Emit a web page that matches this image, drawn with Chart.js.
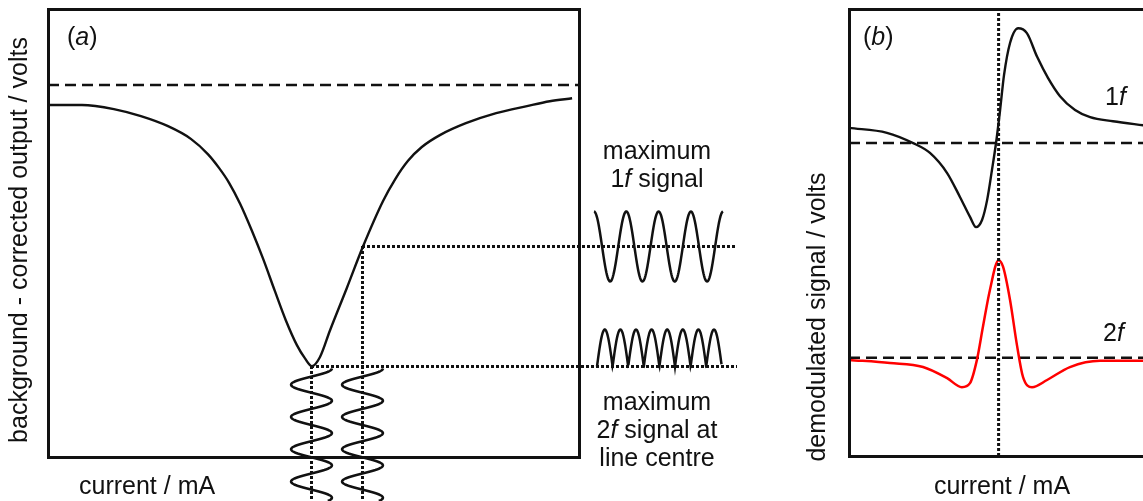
<!DOCTYPE html>
<html>
<head>
<meta charset="utf-8">
<script src="https://cdn.jsdelivr.net/npm/chart.js@4.4.1/dist/chart.umd.min.js"></script>
<style>
  html, body { margin: 0; padding: 0; background: #fff; overflow: hidden; width: 1143px; height: 501px; }
  #wrap { position: relative; width: 1143px; height: 501px; overflow: hidden; }
  canvas { position: absolute; top: 0; }
  #chartA { left: 0; }
  #chartB { left: 780px; }
</style>
</head>
<body>
<div id="wrap">
  <canvas id="chartA" width="760" height="501"></canvas>
  <canvas id="chartB" width="380" height="501"></canvas>
</div>
<script>
// ---- Panel (a): background-corrected detector output vs laser current ----
const currentA = [0, 6.4, 12.4, 17.5, 22.6, 26.9, 30.1, 32.2, 34.1, 36.2, 38.4, 40.5, 42.7, 44.8,
                  46.9, 48.4, 49.7, 51.2, 53.1, 56.3, 59.3, 63.1, 65.4, 67.8, 70.4, 73.8, 78.7,
                  84.4, 90.2, 94.5, 98.7];
const outputA  = [0.946, 0.946, 0.935, 0.916, 0.889, 0.855, 0.814, 0.777, 0.737, 0.680, 0.608, 0.533,
                  0.447, 0.367, 0.300, 0.265, 0.244, 0.268, 0.340, 0.455, 0.565, 0.688, 0.747, 0.796,
                  0.833, 0.865, 0.897, 0.924, 0.943, 0.956, 0.964];
const baselineA = 1.0;       // output with no absorption
const lineCentre = 49.7;     // mA, centre of the absorption line
const slopeCurrent = 59.3;   // mA, steepest flank (largest 1f signal)
const slopeOutput = 0.565;   // output at the steepest flank
const centreOutput = 0.244;  // output at line centre

// ---- Panel (b): demodulated 1f and 2f signals ----
const current1f = [0, 12.6, 21.3, 26.9, 32.6, 36.9, 40.2, 42.2, 44.2, 45.9, 47.5, 48.8, 50.2, 51.5,
                   53.5, 56.2, 59.1, 62.5, 66.1, 70.1, 75.1, 80.1, 87.7, 97.7, 100];
const signal1f  = [7.34, 7.23, 7.00, 6.78, 6.33, 5.79, 5.35, 5.12, 5.28, 5.73, 6.40, 6.98, 7.74, 8.52,
                   9.24, 9.57, 9.46, 8.93, 8.46, 8.05, 7.74, 7.58, 7.49, 7.40, 7.38];
const current2f = [0, 13.6, 24.6, 32.6, 37.5, 40.2, 42.5, 44.5, 46.8, 49.7, 51.2, 53.5, 55.8, 57.8,
                   60.8, 65.8, 73.4, 83.4, 97.7, 100];
const signal2f  = [2.15, 2.08, 1.99, 1.74, 1.54, 1.63, 2.15, 2.89, 3.71, 4.38, 4.23, 3.49, 2.48, 1.77,
                   1.54, 1.70, 1.99, 2.13, 2.13, 2.13];
const baseline1f = 7.0;
const baseline2f = 2.2;

const toPoints = (xs, ys) => xs.map((x, i) => ({ x, y: ys[i] }));

const INK = '#111111';
const FONT = '"Liberation Sans", Arial, Helvetica, sans-serif';
const FS = 25;
const snap = v => Math.round(v - 0.5) + 0.5;

// draw a line of text made of upright / italic runs
function drawRuns(ctx, parts, x, y, align) {
  const fonts = parts.map(p => (p[1] ? 'italic ' : '') + FS + 'px ' + FONT);
  const widths = parts.map((p, i) => { ctx.font = fonts[i]; return ctx.measureText(p[0]).width; });
  const total = widths.reduce((a, b) => a + b, 0);
  let cx = align === 'center' ? x - total / 2 : x;
  ctx.textAlign = 'left';
  ctx.textBaseline = 'alphabetic';
  parts.forEach((p, i) => { ctx.font = fonts[i]; ctx.fillText(p[0], cx, y); cx += widths[i]; });
}

function drawVertical(ctx, text, x, y) {
  ctx.save();
  ctx.translate(x, y);
  ctx.rotate(-Math.PI / 2);
  ctx.font = FS + 'px ' + FONT;
  ctx.textAlign = 'center';
  ctx.textBaseline = 'alphabetic';
  ctx.fillText(text, 0, 0);
  ctx.restore();
}

function frame(ctx, area) {
  ctx.save();
  ctx.strokeStyle = INK;
  ctx.lineWidth = 3;
  const l = snap(area.left), t = snap(area.top), r = snap(area.right), b = snap(area.bottom);
  ctx.strokeRect(l, t, r - l, b - t);
  ctx.restore();
}

// dotted guide: square 3px dots on whole pixels
function dotted(ctx, x1, y1, x2, y2) {
  ctx.save();
  ctx.strokeStyle = INK;
  ctx.lineWidth = 3;
  ctx.setLineDash([3, 2]);
  ctx.beginPath();
  ctx.moveTo(x1, y1);
  ctx.lineTo(x2, y2);
  ctx.stroke();
  ctx.restore();
}

// modulated laser current, drawn running down the page below the current axis
function modulation(ctx, cx, amp, yTop, yBot, period) {
  ctx.save();
  ctx.strokeStyle = INK;
  ctx.lineWidth = 2.5;
  ctx.beginPath();
  for (let y = yTop; y <= yBot; y += 0.5) {
    const x = cx + amp * Math.cos(2 * Math.PI * (y - yTop) / period);
    if (y === yTop) ctx.moveTo(x, y); else ctx.lineTo(x, y);
  }
  ctx.stroke();
  ctx.restore();
}

const panelA = {
  id: 'panelA',
  afterDraw(chart) {
    const { ctx, chartArea, scales } = chart;
    const xs = scales.x, ys = scales.y;
    const xc = snap(xs.getPixelForValue(lineCentre));
    const xs1 = snap(xs.getPixelForValue(slopeCurrent));
    const yc = snap(ys.getPixelForValue(centreOutput));
    const y1 = snap(ys.getPixelForValue(slopeOutput));
    const amp = xs.getPixelForValue(lineCentre + 3.85) - xs.getPixelForValue(lineCentre);
    const period = 32.3;
    const xEnd = 737;

    // guide lines from the curve to the output sketches
    dotted(ctx, Math.floor(xc), yc, xEnd, yc);
    dotted(ctx, Math.floor(xs1), y1, xEnd, y1);
    dotted(ctx, xc, Math.floor(yc), xc, chart.height);
    dotted(ctx, xs1, Math.floor(y1), xs1, chart.height);

    frame(ctx, chartArea);

    // current modulation at line centre and on the flank
    modulation(ctx, xc, amp, yc + 2, chart.height, period);
    modulation(ctx, xs1, amp, yc + 2, chart.height, period);

    // detector output: 1f on the flank
    ctx.save();
    ctx.strokeStyle = INK;
    ctx.lineWidth = 2.5;
    ctx.beginPath();
    const x0 = 594, x1 = 723;
    for (let x = x0; x <= x1; x += 0.5) {
      const y = y1 - 35 * Math.cos(2 * Math.PI * (x - x0) / period);
      if (x === x0) ctx.moveTo(x, y); else ctx.lineTo(x, y);
    }
    ctx.stroke();
    // detector output: 2f at line centre
    ctx.beginPath();
    const x2 = 597, n2 = 8, w2 = 15.6;
    for (let x = x2; x <= x2 + n2 * w2; x += 0.5) {
      const y = yc - 37 * Math.abs(Math.sin(Math.PI * (x - x2) / w2));
      if (x === x2) ctx.moveTo(x, y); else ctx.lineTo(x, y);
    }
    ctx.stroke();
    ctx.restore();

    ctx.save();
    ctx.fillStyle = INK;
    drawRuns(ctx, [['(', false], ['a', true], [')', false]], 67, 45, 'left');
    drawVertical(ctx, 'background - corrected output / volts', 27, 240);
    drawRuns(ctx, [['current / mA', false]], 79, 494, 'left');
    drawRuns(ctx, [['maximum', false]], 657, 159, 'center');
    drawRuns(ctx, [['1', false], ['f', true], [' signal', false]], 657, 187, 'center');
    drawRuns(ctx, [['maximum', false]], 657, 410, 'center');
    drawRuns(ctx, [['2', false], ['f', true], [' signal at', false]], 657, 438, 'center');
    drawRuns(ctx, [['line centre', false]], 657, 466, 'center');
    ctx.restore();
  }
};

const panelB = {
  id: 'panelB',
  afterDraw(chart) {
    const { ctx, chartArea } = chart;
    frame(ctx, chartArea);
    ctx.save();
    ctx.fillStyle = INK;
    drawRuns(ctx, [['(', false], ['b', true], [')', false]], 83, 45, 'left');
    drawVertical(ctx, 'demodulated signal / volts', 45, 317);
    drawRuns(ctx, [['current / mA', false]], 222, 494, 'center');
    drawRuns(ctx, [['1', false], ['f', true]], 325, 105, 'left');
    drawRuns(ctx, [['2', false], ['f', true]], 323, 341, 'left');
    ctx.restore();
  }
};

const common = (padding, xmin, xmax, ymax) => ({
  responsive: false,
  animation: false,
  events: [],
  layout: { padding },
  plugins: { legend: { display: false }, tooltip: { enabled: false } },
  scales: {
    x: { type: 'linear', min: xmin, max: xmax, display: false },
    y: { type: 'linear', min: 0, max: ymax, display: false }
  },
  elements: { point: { radius: 0 } }
});

new Chart(document.getElementById('chartA'), {
  type: 'line',
  data: {
    datasets: [
      { data: toPoints(currentA, outputA), borderColor: INK, borderWidth: 2.4, cubicInterpolationMode: 'monotone' },
      { data: [{ x: 0, y: baselineA }, { x: 100, y: baselineA }], borderColor: INK, borderWidth: 2.5, borderDash: [11, 6] }
    ]
  },
  options: common({ left: 48, top: 9, right: 181, bottom: 44 }, 0, 100, 1.204),
  plugins: [panelA]
});

new Chart(document.getElementById('chartB'), {
  type: 'line',
  data: {
    datasets: [
      { data: [{ x: lineCentre, y: 0 }, { x: lineCentre, y: 10 }], borderColor: INK, borderWidth: 3, borderDash: [3, 2] },
      { data: toPoints(current1f, signal1f), borderColor: INK, borderWidth: 2.4, cubicInterpolationMode: 'monotone' },
      { data: toPoints(current2f, signal2f), borderColor: '#ff0000', borderWidth: 2.5, cubicInterpolationMode: 'monotone' },
      { data: [{ x: 0, y: baseline1f }, { x: 100, y: baseline1f }], borderColor: INK, borderWidth: 2.5, borderDash: [11, 6] },
      { data: [{ x: 0, y: baseline2f }, { x: 100, y: baseline2f }], borderColor: INK, borderWidth: 2.5, borderDash: [11, 6] }
    ]
  },
  options: common({ left: 69, top: 9, right: 10, bottom: 45 }, 0, 100, 10),
  plugins: [panelB]
});
</script>
</body>
</html>
